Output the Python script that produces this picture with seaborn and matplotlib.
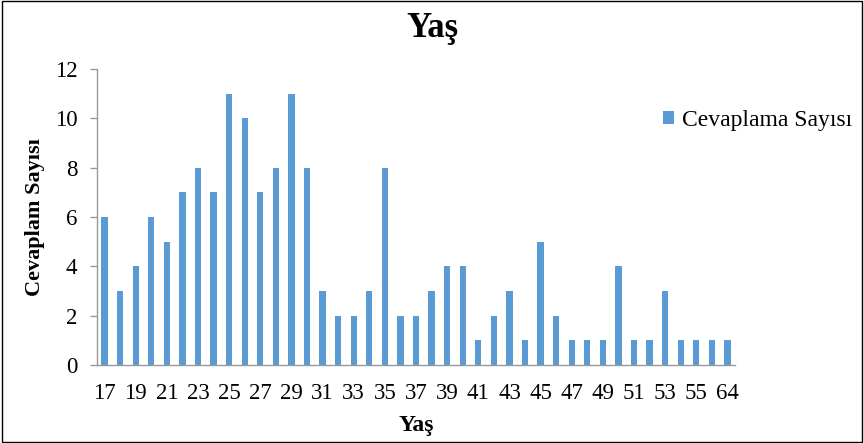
import matplotlib
matplotlib.use("Agg")
import matplotlib.pyplot as plt
import seaborn as sns
import pandas as pd
from matplotlib.patches import Rectangle

# Age groups (years) and number of responses per age
ages = [17, 18, 19, 20, 21, 22, 23, 24, 25, 26, 27, 28, 29, 30, 31, 32, 33, 34,
        35, 36, 37, 38, 39, 40, 41, 42, 43, 44, 45, 46, 47, 48, 49, 50, 51, 52,
        53, 54, 55, 58, 64]
counts = [6, 3, 4, 6, 5, 7, 8, 7, 11, 10, 7, 8, 11, 8, 3, 2, 2, 3,
          8, 2, 2, 3, 4, 4, 1, 2, 3, 1, 5, 2, 1, 1, 1, 4, 1, 1,
          3, 1, 1, 1, 1]
series_name = "Cevaplama Sayısı"
y_ticks = [0, 2, 4, 6, 8, 10, 12]

df = pd.DataFrame({"Yaş": [str(a) for a in ages], series_name: counts})

sns.set_theme(style="white")
plt.rcParams["font.family"] = ["Liberation Serif", "DejaVu Serif"]
plt.rcParams["text.color"] = "black"
plt.rcParams["axes.labelcolor"] = "black"
plt.rcParams["xtick.color"] = "black"
plt.rcParams["ytick.color"] = "black"

fig = plt.figure(figsize=(8.64, 4.43), dpi=100)
ax = fig.add_axes([0.112, 0.176, 0.739, 0.668])

bar_color = "#5B9BD5"
sns.barplot(data=df, x="Yaş", y=series_name, color=bar_color, width=0.4,
            ax=ax, label=series_name, saturation=1, linewidth=0,
            edgecolor=bar_color)

ax.set_ylim(0, 12)
ax.set_yticks(y_ticks)
ax.set_xlim(-0.5, len(ages) - 0.5)
positions = list(range(0, len(ages), 2))
ax.set_xticks(positions)
ax.set_xticklabels([str(ages[i]) for i in positions])

ax.tick_params(axis="y", which="both", left=True, length=5, width=1,
               color="#999999", labelcolor="black", labelsize=16.5, pad=9)
ax.tick_params(axis="x", bottom=False, labelcolor="black", labelsize=16.5, pad=7)

for side in ["top", "right"]:
    ax.spines[side].set_visible(False)
for side in ["left", "bottom"]:
    ax.spines[side].set_color("#999999")
    ax.spines[side].set_linewidth(1)

ax.set_xlabel("Yaş", fontsize=17, fontweight="bold", labelpad=8, color="black")
ax.set_ylabel("Cevaplam Sayısı", fontsize=16, fontweight="bold", labelpad=7,
              color="black")
fig.suptitle("Yaş", fontsize=25, fontweight="bold", x=0.5, y=0.972, color="black")

handles, labels = ax.get_legend_handles_labels()
if ax.get_legend() is not None:
    ax.get_legend().remove()
fig.legend(handles, labels, loc="center left", bbox_to_anchor=(0.767, 0.728),
           frameon=False, fontsize=17, handlelength=0.5, handleheight=0.5,
           handletextpad=0.3, borderpad=0, borderaxespad=0, labelcolor="black")

# thin frame around the whole chart
fig.patches.append(Rectangle((0.002, 0.003), 0.996, 0.994, transform=fig.transFigure,
                             fill=False, edgecolor="#000000", linewidth=1))

fig.savefig("out.png", dpi=100)
